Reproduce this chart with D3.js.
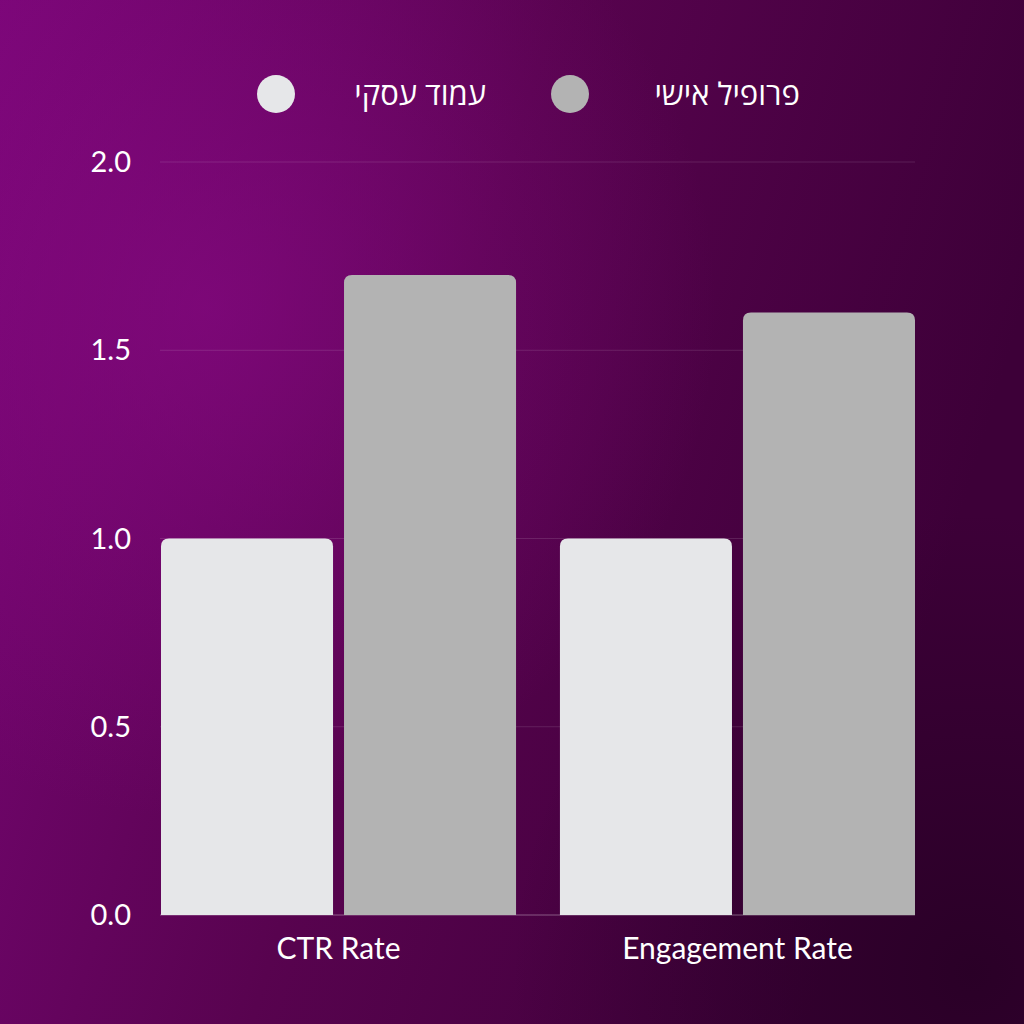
<!DOCTYPE html>
<html><head><meta charset="utf-8">
<script src="https://cdn.jsdelivr.net/npm/d3@7"></script>
<style>body{margin:0;background:#000}svg{display:block}</style>
</head><body>
<script>
const categories = ['CTR Rate', 'Engagement Rate'];
const seriesNames = ['עמוד עסקי', 'פרופיל אישי'];
const seriesColors = ['#e6e7e9', '#b3b3b3'];
const business = [1.0, 1.0];
const personal = [1.7, 1.6];
const yTicks = [0, 0.5, 1.0, 1.5, 2.0];

const W = 1024, H = 1024;
const svg = d3.select('body').append('svg').attr('width', W).attr('height', H);
const defs = svg.append('defs');

const lg = defs.append('linearGradient').attr('id', 'bg').attr('x1', 0).attr('y1', 0).attr('x2', 1).attr('y2', 0.3);
lg.append('stop').attr('offset', 0).attr('stop-color', '#7a0677');
lg.append('stop').attr('offset', 0.5).attr('stop-color', '#58034f');
lg.append('stop').attr('offset', 1).attr('stop-color', '#3d0038');
svg.append('rect').attr('width', W).attr('height', H).attr('fill', 'url(#bg)');
const rg = defs.append('radialGradient').attr('id', 'glow').attr('cx', 0.2).attr('cy', 0.3).attr('r', 0.5);
rg.append('stop').attr('offset', 0).attr('stop-color', '#8a0a86').attr('stop-opacity', 0.6);
rg.append('stop').attr('offset', 1).attr('stop-color', '#8a0a86').attr('stop-opacity', 0);
svg.append('rect').attr('width', W).attr('height', H).attr('fill', 'url(#glow)');
const rg2 = defs.append('radialGradient').attr('id', 'dark').attr('cx', 0.95).attr('cy', 0.95).attr('r', 0.45);
rg2.append('stop').attr('offset', 0).attr('stop-color', '#220020').attr('stop-opacity', 0.7);
rg2.append('stop').attr('offset', 1).attr('stop-color', '#220020').attr('stop-opacity', 0);
svg.append('rect').attr('width', W).attr('height', H).attr('fill', 'url(#dark)');

const font = 'Lato, "Open Sans", sans-serif';
const y = d3.scaleLinear().domain([0, 2]).range([915, 162]);
const x0 = d3.scaleBand().domain(categories).range([161, 915]).paddingInner(0.11).paddingOuter(0);
const x1 = d3.scaleBand().domain([0, 1]).range([0, x0.bandwidth()]).paddingInner(0.06);

svg.append('g').selectAll('line').data(yTicks).enter().append('line')
  .attr('x1', 160).attr('x2', 915).attr('y1', d => y(d)).attr('y2', d => y(d))
  .attr('stroke', '#ffffff').attr('stroke-opacity', d => d === 0 ? 0.35 : 0.12).attr('stroke-width', 1);

svg.append('g').selectAll('text').data(yTicks).enter().append('text')
  .attr('x', 131).attr('y', d => y(d)).attr('dy', '0.35em').attr('text-anchor', 'end')
  .attr('fill', '#fff').style('font-family', font).style('font-size', '29px')
  .text(d => d.toFixed(1));

const rows = categories.map((c, i) => [business[i], personal[i]]);
const r = 8;
const bar = (x, w, top, bot) => `M${x},${bot}V${top + r}Q${x},${top} ${x + r},${top}H${x + w - r}Q${x + w},${top} ${x + w},${top + r}V${bot}Z`;
svg.append('g').selectAll('g').data(rows).enter().append('g')
  .attr('transform', (d, i) => `translate(${x0(categories[i])},0)`)
  .selectAll('path').data(d => d).enter().append('path')
  .attr('fill', (d, j) => seriesColors[j])
  .attr('d', (d, j) => bar(x1(j), x1.bandwidth(), y(d), y(0)));

svg.append('g').selectAll('text').data(categories).enter().append('text')
  .attr('x', d => x0(d) + x0.bandwidth() / 2).attr('y', 948).attr('dy', '0.35em').attr('text-anchor', 'middle')
  .attr('fill', '#fff').style('font-family', font).style('font-size', '30px').text(d => d);

const legendX = [276, 570];
const lgd = svg.append('g').selectAll('g').data(seriesNames).enter().append('g')
  .attr('transform', (d, i) => `translate(${legendX[i]},94)`);
lgd.append('circle').attr('r', 19).attr('fill', (d, i) => seriesColors[i]);
lgd.append('text').attr('x', (d, i) => i === 0 ? 210 : 230).attr('dy', '0.35em').attr('text-anchor', 'end')
  .attr('fill', '#fff').style('font-family', font).style('font-size', '31px').text(d => d);
</script>
</body></html>
